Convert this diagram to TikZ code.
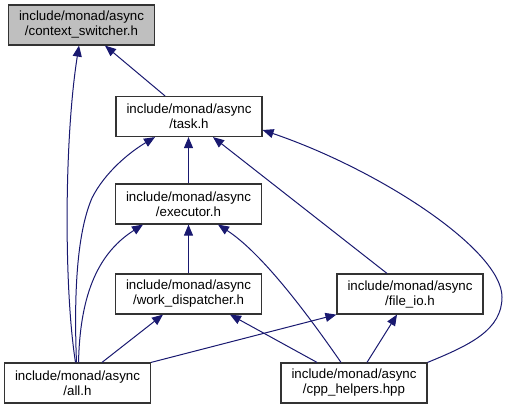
\documentclass[tikz,border=0pt]{standalone}
\usepackage{fontspec}
\setmainfont{Liberation Sans}
\usetikzlibrary{arrows.meta}
\definecolor{cEdge}{HTML}{191970}
\definecolor{cLine}{HTML}{333333}
\definecolor{cRoot}{HTML}{BFBFBF}

\begin{document}
\begin{tikzpicture}[x=1pt, y=-1pt,
  file/.style={draw=cLine, line width=1.2pt, fill=white, minimum width=146pt, minimum height=40pt, inner sep=0pt, align=center, font=\fontsize{13.3}{15}\selectfont},
  dep/.style={cEdge, line width=1pt, -{Triangle[length=11pt, width=9pt]}}
]
\useasboundingbox (0,0) rectangle (508,409);

% header files
\node[file, fill=cRoot] (ctx) at (81.5,25) {include/monad/async\\/context\_switcher.h};
\node[file] (task) at (189,116.5) {include/monad/async\\/task.h};
\node[file] (exec) at (188.5,204) {include/monad/async\\/executor.h};
\node[file] (work) at (188.5,294) {include/monad/async\\/work\_dispatcher.h};
\node[file] (fio) at (410,294) {include/monad/async\\/file\_io.h};
\node[file] (all) at (77.5,383) {include/monad/async\\/all.h};
\node[file] (cpp) at (354,383) {include/monad/async\\/cpp\_helpers.hpp};

% includes
\draw[dep] ([xshift=-2]all.north) .. controls (64,290) and (64,140) .. ([xshift=-2.5]ctx.south);
\draw[dep] ([xshift=-24]task.north) -- ([xshift=23.5]ctx.south);
\draw[dep] ([xshift=-1]all.north) .. controls (74,300) and (76,235) .. (92,198) .. controls (105,172) and (130,152) .. ([xshift=-34]task.south);
\draw[dep] (exec.north) -- ([xshift=-0.5]task.south);
\draw[dep] ([xshift=-23]fio.north) -- ([xshift=24]task.south);
\draw[dep] (cpp.north east) .. controls (470,345) and (502,330) .. (502,297) .. controls (502,250) and (380,170) .. ([yshift=-13.5]task.east);
\draw[dep] (work.north) -- (exec.south);
\draw[dep] ([xshift=1]all.north) .. controls (80,300) and (95,255) .. ([xshift=-45.5]exec.south);
\draw[dep] ([xshift=-13]cpp.north) .. controls (315,325) and (265,255) .. ([xshift=29.5]exec.south);
\draw[dep] ([xshift=24.5]all.north) -- ([xshift=-25.5]work.south);
\draw[dep] ([xshift=-37]cpp.north) -- ([xshift=41.5]work.south);
\draw[dep] (all.north east) -- (fio.south west);
\draw[dep] ([xshift=13]cpp.north) -- ([xshift=-13]fio.south);
\end{tikzpicture}
\end{document}
